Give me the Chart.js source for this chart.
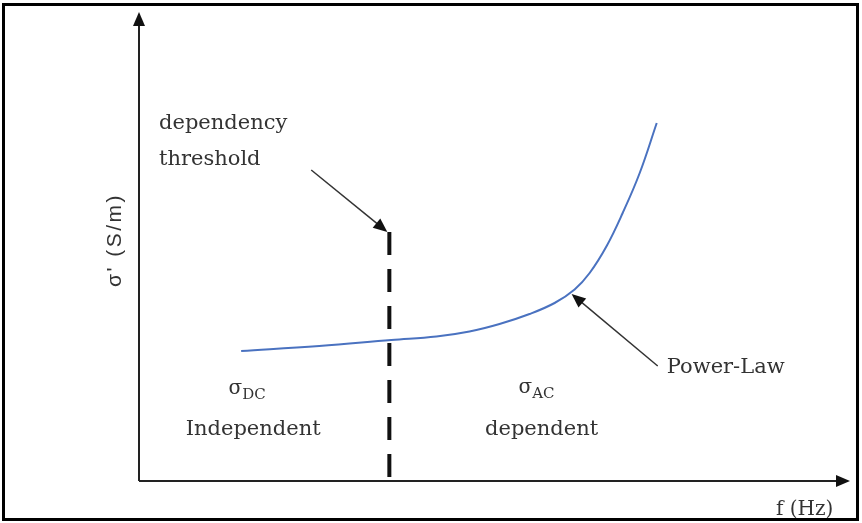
<!DOCTYPE html>
<html>
<head>
<meta charset="utf-8">
<script src="https://cdn.jsdelivr.net/npm/chart.js@4/dist/chart.umd.min.js"></script>
<style>
  html, body { margin: 0; padding: 0; background: #fff; }
  #wrap { width: 862px; height: 523px; }
</style>
</head>
<body>
<div id="wrap"><canvas id="chart" width="862" height="523"></canvas></div>
<script>
// frequency (arbitrary units) and conductivity (arbitrary units)
const freq = [10.2, 18, 25.2, 29.7, 33, 36, 39, 41.5, 43.5, 45, 46.7, 48.3, 50, 51.7];
const sigma = [13.0, 13.5, 14.1, 14.45, 14.95, 15.7, 16.7, 17.8, 19.15, 20.8, 23.5, 26.8, 30.8, 35.8];
// dependency threshold
const thresholdX = 25;
const thresholdTop = 24.9;

const xMax = 71;
const yMax = 46.9;

// annotation texts, placed in data units
const labels = [
  { text: 'dependency', x: 2.0, y: 35.2, align: 'left' },
  { text: 'threshold', x: 2.0, y: 31.6, align: 'left' },
  { text: 'Power-Law', x: 52.7, y: 10.8, align: 'left' },
  { text: 'Independent', x: 11.4, y: 4.6, align: 'center' },
  { text: 'dependent', x: 40.2, y: 4.6, align: 'center' }
];

const arrows = [
  { from: [17.2, 31.1], to: [24.8, 24.9] },
  { from: [51.8, 11.5], to: [43.2, 18.7] }
];

const serif = '"DejaVu Serif", "Liberation Serif", serif';

function arrowHead(ctx, x1, y1, x2, y2, len, wid) {
  const a = Math.atan2(y2 - y1, x2 - x1);
  ctx.beginPath();
  ctx.moveTo(x2, y2);
  ctx.lineTo(x2 - len * Math.cos(a) + wid * Math.sin(a), y2 - len * Math.sin(a) - wid * Math.cos(a));
  ctx.lineTo(x2 - len * Math.cos(a) - wid * Math.sin(a), y2 - len * Math.sin(a) + wid * Math.cos(a));
  ctx.closePath();
  ctx.fill();
}

const decor = {
  id: 'decor',
  afterDraw(chart) {
    const ctx = chart.ctx;
    const xs = chart.scales.x, ys = chart.scales.y;
    const a = chart.chartArea;
    const px = v => xs.getPixelForValue(v);
    const py = v => ys.getPixelForValue(v);
    ctx.save();

    // frame
    ctx.strokeStyle = '#000';
    ctx.lineWidth = 3;
    ctx.strokeRect(3.5, 4.5, 854, 515);

    // axes
    ctx.strokeStyle = '#222';
    ctx.fillStyle = '#111';
    ctx.lineWidth = 2;
    ctx.beginPath();
    ctx.moveTo(a.left, a.bottom);
    ctx.lineTo(a.left, a.top + 8);
    ctx.moveTo(a.left, a.bottom);
    ctx.lineTo(a.right - 8, a.bottom);
    ctx.stroke();
    arrowHead(ctx, a.left, a.bottom, a.left, a.top, 14, 6);
    arrowHead(ctx, a.left, a.bottom, a.right, a.bottom, 14, 6);

    // annotation arrows
    ctx.strokeStyle = '#333';
    ctx.fillStyle = '#111';
    ctx.lineWidth = 1.5;
    arrows.forEach(ar => {
      const x1 = px(ar.from[0]), y1 = py(ar.from[1]);
      const x2 = px(ar.to[0]), y2 = py(ar.to[1]);
      const ang = Math.atan2(y2 - y1, x2 - x1);
      ctx.beginPath();
      ctx.moveTo(x1, y1);
      ctx.lineTo(x2 - 10 * Math.cos(ang), y2 - 10 * Math.sin(ang));
      ctx.stroke();
      arrowHead(ctx, x1, y1, x2, y2, 14, 6);
    });

    // texts
    ctx.fillStyle = '#333';
    ctx.textBaseline = 'alphabetic';
    ctx.font = '21px ' + serif;
    labels.forEach(l => {
      ctx.textAlign = l.align;
      ctx.fillText(l.text, px(l.x), py(l.y));
    });

    // sigma with subscripts
    function sub(main, s, cx, baseY) {
      ctx.font = '20px ' + serif;
      const w1 = ctx.measureText(main).width;
      ctx.font = '15px ' + serif;
      const w2 = ctx.measureText(s).width;
      const x0 = cx - (w1 + w2) / 2;
      ctx.textAlign = 'left';
      ctx.font = '20px ' + serif;
      ctx.fillText(main, x0, baseY);
      ctx.font = '15px ' + serif;
      ctx.fillText(s, x0 + w1, baseY + 5);
    }
    sub('\u03c3', 'DC', px(10.8), py(8.7));
    sub('\u03c3', 'AC', px(39.7), py(8.8));

    // x title
    ctx.textAlign = 'left';
    ctx.font = '20px ' + serif;
    ctx.fillText('f (Hz)', 776, a.bottom + 34);

    // y title
    ctx.translate(a.left - 18, py(24.1));
    ctx.rotate(-Math.PI / 2);
    ctx.textAlign = 'center';
    ctx.font = '21px "Liberation Sans", Arial, sans-serif';
    ctx.letterSpacing = '2.5px';
    ctx.fillText("\u03c3' (S/m)", 0, 0);
    ctx.restore();
  }
};

new Chart(document.getElementById('chart'), {
  type: 'scatter',
  data: {
    datasets: [
      {
        data: freq.map((f, i) => ({ x: f, y: sigma[i] })),
        showLine: true,
        borderColor: '#4a72c0',
        borderWidth: 2,
        pointRadius: 0,
        tension: 0.4
      },
      {
        data: [{ x: thresholdX, y: thresholdTop }, { x: thresholdX, y: 0 }],
        showLine: true,
        borderColor: '#111',
        borderWidth: 4,
        borderDash: [23, 14],
        pointRadius: 0
      }
    ]
  },
  options: {
    responsive: false,
    animation: false,
    layout: { padding: { left: 139, right: 12, top: 12, bottom: 42 } },
    plugins: { legend: { display: false }, tooltip: { enabled: false } },
    scales: {
      x: { type: 'linear', min: 0, max: xMax, display: false },
      y: { type: 'linear', min: 0, max: yMax, display: false }
    }
  },
  plugins: [decor]
});
</script>
</body>
</html>
